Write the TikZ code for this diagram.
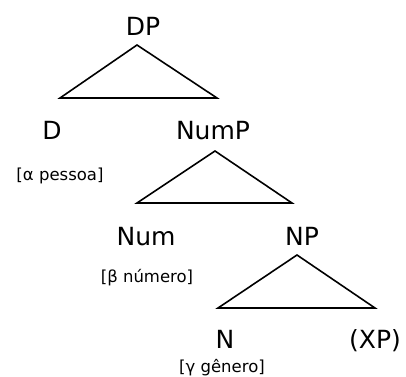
\documentclass[tikz,border=0pt]{standalone}
\usepackage{fontspec}
\setmainfont{DejaVu Sans}
\usetikzlibrary{calc}

\tikzset{
  cat/.style={anchor=base,inner sep=0pt,font=\fontsize{25}{28}\selectfont},
  feat/.style={anchor=base,inner sep=0pt,font=\fontsize{16.5}{19}\selectfont},
  tri/.style={draw,line width=1.6pt,line join=miter}
}

\begin{document}
\begin{tikzpicture}[x=1pt,y=-1pt]
    \useasboundingbox (0,0) rectangle (406,376);
    % labels
    \node[cat] (DP) at (143,35) {DP};
    \node[cat] (D) at (52,139) {D};
    \node[cat] (NumP) at (213,139) {NumP};
    \node[cat] (Num) at (146,245) {Num};
    \node[cat] (NP) at (302,245) {NP};
    \node[cat] (N) at (225,348) {N};
    \node[cat] (XP) at (375,348) {(XP)};
    \node[feat] (fD) at (60,180) {[α pessoa]};
    \node[feat] (fNum) at (147,282) {[β número]};
    \node[feat] (fN) at (222,372) {[γ gênero]};
    % triangles
    \coordinate (DPtop) at (137,45);
    \coordinate (DPl) at (60,98);
    \coordinate (DPr) at (217,98);
    \coordinate (NumPtop) at (215,151);
    \coordinate (NumPl) at (137,203);
    \coordinate (NumPr) at (292,203);
    \coordinate (NPtop) at (297,255);
    \coordinate (NPl) at (218,308);
    \coordinate (NPr) at (375,308);
    \draw[tri] (DPtop) -- (DPl) -- (DPr) -- cycle;
    \draw[tri] (NumPtop) -- (NumPl) -- (NumPr) -- cycle;
    \draw[tri] (NPtop) -- (NPl) -- (NPr) -- cycle;
\end{tikzpicture}
\end{document}
